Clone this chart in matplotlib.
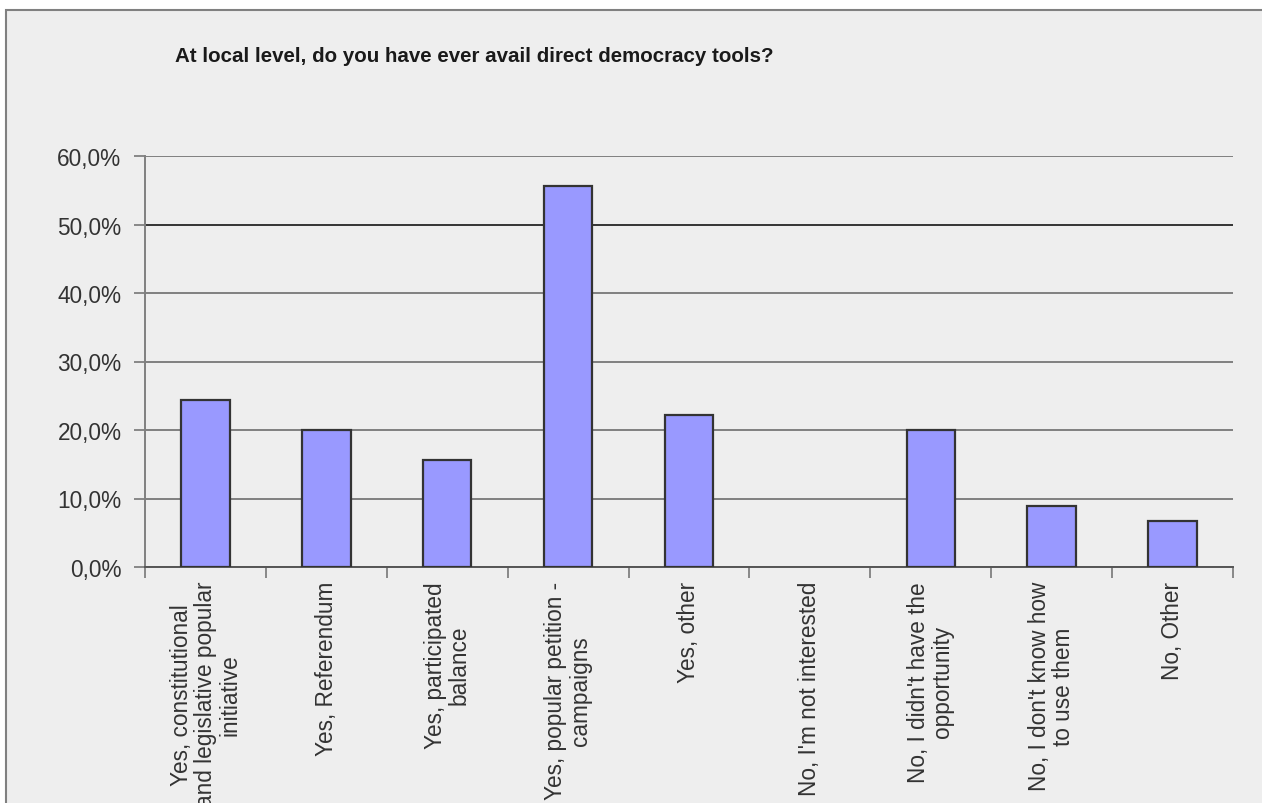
#!/usr/bin/env python3

import matplotlib
matplotlib.use("Agg")
import matplotlib.pyplot as plt
from matplotlib.patches import Rectangle
from matplotlib.ticker import FuncFormatter, MultipleLocator


TITLE = "At local level, do you have ever avail direct democracy tools?"

CATEGORIES = [
    "Yes, constitutional\nand legislative popular\ninitiative",
    "Yes, Referendum",
    "Yes, participated\nbalance",
    "Yes, popular petition -\ncampaigns",
    "Yes, other",
    "No, I'm not interested",
    "No, I didn't have the\nopportunity",
    "No, I don't know how\nto use them",
    "No, Other",
]
VALUES = [24.4, 20.0, 15.6, 55.6, 22.2, 0.0, 20.0, 8.9, 6.7]

Y_MAX = 60
Y_STEP = 10

W, H = 1262, 804


def pct_label(v, _pos):
    return f"{v:.1f}%".replace(".", ",")


def main():
    plt.rcParams["font.family"] = ["Liberation Sans", "DejaVu Sans"]

    fig = plt.figure(figsize=(W / 100, H / 100), dpi=100, facecolor="white")

    # Grey chart-area panel with a border; runs off the right and bottom.
    bg = fig.add_axes([0, 0, 1, 1], zorder=-5)
    bg.set_axis_off()
    bg.add_patch(Rectangle(
        (6 / W, -0.1), 1.2, (H - 11) / H + 0.1,
        transform=bg.transAxes,
        facecolor="#eeeeee",
        edgecolor="#808080",
        linewidth=1.5,
        clip_on=False,
    ))

    left, right = 145 / W, 1233 / W
    bottom, top = (H - 568) / H, (H - 157) / H
    ax = fig.add_axes([left, bottom, right - left, top - bottom])
    ax.set_facecolor("none")

    x = list(range(len(CATEGORIES)))
    # empty categories get no outline (nothing visible in the original)
    widths = [1.6 if v > 0 else 0 for v in VALUES]
    ax.bar(
        x, VALUES,
        width=0.4,
        color="#9999ff",
        edgecolor="#333333",
        linewidth=widths,
        zorder=3,
    )

    ax.set_xlim(-0.5, len(CATEGORIES) - 0.5)
    ax.set_ylim(0, Y_MAX)

    ax.yaxis.set_major_locator(MultipleLocator(Y_STEP))
    ax.yaxis.set_major_formatter(FuncFormatter(pct_label))
    ax.tick_params(axis="y", length=8, width=1.3, color="#808080",
                   labelsize=16.3, labelcolor="#333333", pad=9)

    ax.set_xticks(x)
    ax.set_xticklabels(CATEGORIES, rotation=90, ha="center", va="top",
                       multialignment="center", linespacing=1.08)
    ax.set_xticks([i - 0.5 for i in range(len(CATEGORIES) + 1)], minor=True)
    ax.tick_params(axis="x", which="major", length=0, labelsize=16.3,
                   labelcolor="#333333", pad=10)
    ax.tick_params(axis="x", which="minor", length=8, width=1.3,
                   color="#808080")

    ax.yaxis.grid(True, color="#808080", linewidth=1.4, zorder=1)
    ax.set_axisbelow(True)
    # the 50% line is drawn darker in the original
    for val, line in zip(ax.get_yticks(), ax.get_ygridlines()):
        if abs(val - 50) < 1e-6:
            line.set_color("#333333")

    for side in ("top", "right"):
        ax.spines[side].set_visible(False)
    ax.spines["left"].set_color("#808080")
    ax.spines["left"].set_linewidth(1.4)
    ax.spines["bottom"].set_color("#555555")
    ax.spines["bottom"].set_linewidth(1.4)

    fig.text(
        175 / W, 1 - 57 / H, TITLE,
        ha="left", va="center",
        fontsize=14.8,
        fontweight="bold",
        color="#1a1a1a",
    )

    fig.savefig("out.png", dpi=100, facecolor="white")


if __name__ == "__main__":
    main()
